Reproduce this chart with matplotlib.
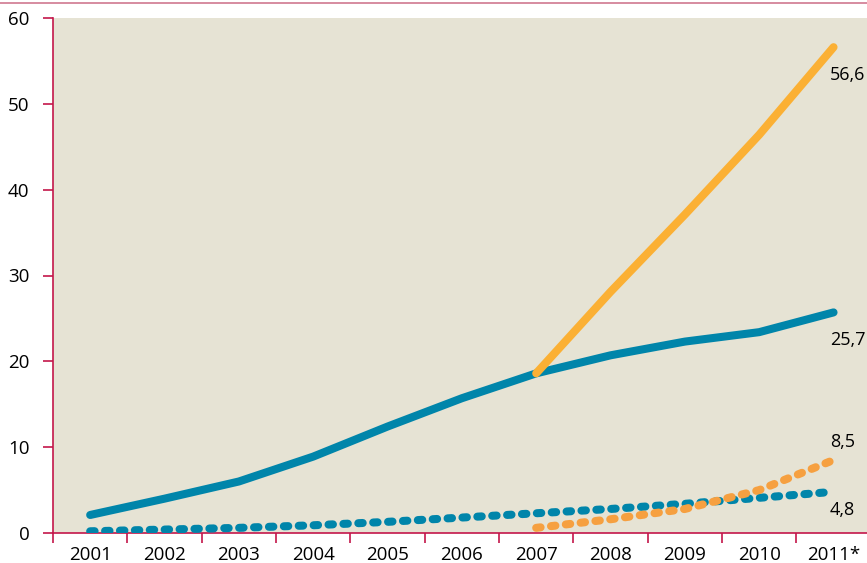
import matplotlib.pyplot as plt
from matplotlib.lines import Line2D

years = ["2001", "2002", "2003", "2004", "2005", "2006", "2007", "2008", "2009", "2010", "2011*"]
teal_solid = [2.1, 4.0, 6.0, 8.9, 12.4, 15.7, 18.6, 20.7, 22.3, 23.4, 25.7]
teal_dot = [0.2, 0.4, 0.6, 0.9, 1.3, 1.8, 2.3, 2.8, 3.4, 4.1, 4.8]
orange_solid = [18.6, 28.1, 37.1, 46.4, 56.6]
orange_dot = [0.6, 1.6, 2.8, 5.0, 8.5]
end_labels = ["56,6", "25,7", "8,5", "4,8"]

plt.rcParams['font.family'] = ['Open Sans', 'DejaVu Sans']

TEAL = "#0085AA"
ORANGE = "#FBB034"
ORANGE2 = "#F6A040"
RED = "#C4164A"

fig = plt.figure(figsize=(8.67, 5.63), dpi=100)
ax = fig.add_axes([53 / 867, 30 / 563, 814 / 867, 515 / 563])
ax.set_facecolor("#E6E3D4")

x = [i + 0.5 for i in range(len(years))]
x2 = x[6:]
lw = 5.8
dash = (0.55, 1.3)

ax.plot(x, teal_solid, color=TEAL, lw=lw, solid_capstyle='round', zorder=3)
ax.plot(x, teal_dot, color=TEAL, lw=lw, dashes=dash, dash_capstyle='round', zorder=3)
ax.plot(x2, orange_dot, color=ORANGE2, lw=lw, dashes=dash, dash_capstyle='round', zorder=4)
ax.plot(x2, orange_solid, color=ORANGE, lw=lw, solid_capstyle='round', zorder=4)

fs = 13
ax.text(x[-1] - 0.05, orange_solid[-1] - 2.2, end_labels[0], fontsize=fs, va='top', ha='left')
ax.text(x[-1] - 0.05, teal_solid[-1] - 2.2, end_labels[1], fontsize=fs, va='top', ha='left')
ax.text(x[-1] - 0.05, orange_dot[-1] + 1.0, end_labels[2], fontsize=fs, va='bottom', ha='left')
ax.text(x[-1] - 0.05, teal_dot[-1] - 1.1, end_labels[3], fontsize=fs, va='top', ha='left')

ax.set_xlim(0, 10.95)
ax.set_ylim(0, 60)
ax.set_yticks(range(0, 61, 10))
ax.set_xticks(x)
ax.set_xticklabels(years)
ax.set_xticks(range(0, 11), minor=True)
ax.tick_params(axis='x', which='major', length=0, pad=9, labelsize=fs + 0.5)
ax.tick_params(axis='x', which='minor', length=7, width=1.2, color=RED)
ax.tick_params(axis='y', length=7, width=1.2, color=RED, labelsize=fs + 0.5, pad=10)

for s in ['top', 'right']:
    ax.spines[s].set_visible(False)
for s in ['left', 'bottom']:
    ax.spines[s].set_color(RED)
    ax.spines[s].set_linewidth(1.2)

fig.add_artist(Line2D([0, 1], [1 - 3 / 563, 1 - 3 / 563], transform=fig.transFigure,
                      color="#D07890", lw=1.2))

fig.savefig("out.png", dpi=100)
